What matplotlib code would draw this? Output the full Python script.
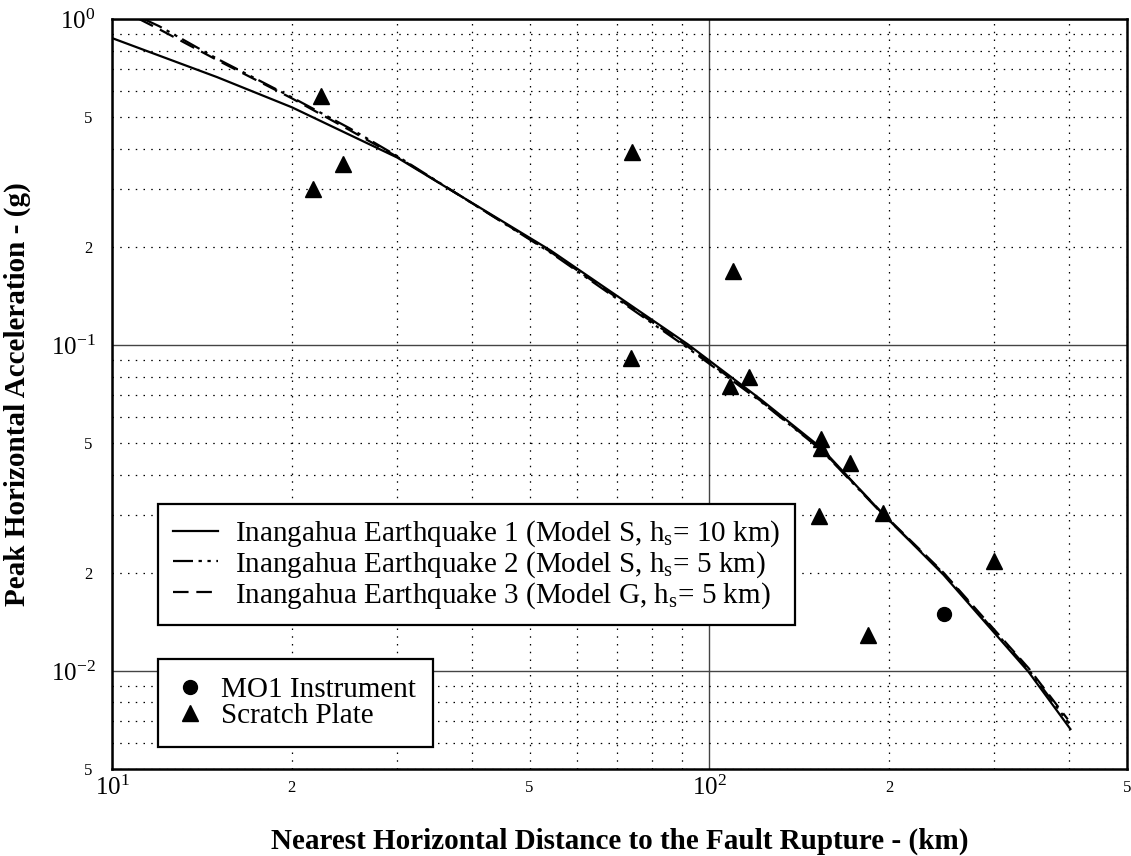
import math
import matplotlib
matplotlib.use("Agg")
import matplotlib.pyplot as plt
from matplotlib.ticker import FixedLocator, FuncFormatter

plt.rcParams['font.family'] = ['Liberation Serif', 'DejaVu Serif']
plt.rcParams['mathtext.fontset'] = 'custom'
plt.rcParams['mathtext.rm'] = 'Liberation Serif'
plt.rcParams['mathtext.it'] = 'Liberation Serif:italic'

# ---- data ----
eq1_x = [10, 15.0, 20.0, 30.0, 54.2, 91.9, 121.7, 153.5, 193.4, 246.6, 342.1, 402]
eq1_y = [0.874, 0.663, 0.536, 0.376, 0.195, 0.1006, 0.0682, 0.0485, 0.0308, 0.0197, 0.00993, 0.00663]

eq2_x = [11.3, 12, 15, 20, 25, 30, 54.2, 91.9, 121.7, 153.5, 193.4, 246.6, 342.1, 400]
eq2_y = [1.0, 0.95, 0.755, 0.575, 0.462, 0.380, 0.192, 0.098, 0.0672, 0.0478, 0.0307, 0.0199, 0.0101, 0.0069]

eq3_x = [11.1, 12, 15, 20, 25, 30, 54.2, 91.9, 121.7, 153.5, 193.4, 246.6, 342.1, 398]
eq3_y = [1.0, 0.93, 0.748, 0.571, 0.456, 0.378, 0.193, 0.099, 0.0675, 0.0480, 0.0309, 0.0200, 0.0102, 0.0071]

mo1_x = [246.6]
mo1_y = [0.0149]

scratch_x = [22.4, 21.7, 24.4, 74.3, 74.0, 109.7, 116.7, 108.4, 153.5, 154.0, 171.6, 152.4, 195.0, 184.5, 299.0]
scratch_y = [0.58, 0.30, 0.36, 0.39, 0.0913, 0.169, 0.0797, 0.0748, 0.0514, 0.0482, 0.0434, 0.0298, 0.0304, 0.0129, 0.0217]

labels = ["Inangahua Earthquake 1 (Model S, h$_\\mathregular{s}$= 10 km)",
          "Inangahua Earthquake 2 (Model S, h$_\\mathregular{s}$= 5 km)",
          "Inangahua Earthquake 3 (Model G, h$_\\mathregular{s}$= 5 km)"]
point_labels = ["MO1 Instrument", "Scratch Plate"]

x_major = [10, 100]
y_major = [0.01, 0.1, 1.0]
x_minor = [20, 30, 40, 50, 60, 70, 80, 90, 200, 300, 400, 500]
y_minor = [0.005, 0.006, 0.007, 0.008, 0.009, 0.02, 0.03, 0.04, 0.05, 0.06, 0.07, 0.08, 0.09,
           0.2, 0.3, 0.4, 0.5, 0.6, 0.7, 0.8, 0.9]

fig = plt.figure(figsize=(11.31, 8.56), dpi=100)
ax = fig.add_axes([112/1131, 1-769/856, (1127-112)/1131, (769-19)/856])
ax.set_xscale('log')
ax.set_yscale('log')
ax.set_xlim(10, 500)
ax.set_ylim(0.005, 1.0)

ax.xaxis.set_major_locator(FixedLocator(x_major))
ax.yaxis.set_major_locator(FixedLocator(y_major))
ax.xaxis.set_minor_locator(FixedLocator(x_minor))
ax.yaxis.set_minor_locator(FixedLocator(y_minor))
ax.grid(which='major', color='#444444', linestyle='-', linewidth=1.0)
ax.grid(which='minor', color='black', linestyle=(0, (1.2, 5)), linewidth=0.9)

def major_fmt(v, pos):
    e = int(round(math.log10(v)))
    return r"$\mathregular{10^{%d}}$" % e

def minor_fmt(v, pos):
    m = int(round(v / 10 ** math.floor(math.log10(v) + 1e-9)))
    return str(m) if m in (2, 5) else ""

ax.xaxis.set_major_formatter(FuncFormatter(major_fmt))
ax.yaxis.set_major_formatter(FuncFormatter(major_fmt))
ax.xaxis.set_minor_formatter(FuncFormatter(minor_fmt))
ax.yaxis.set_minor_formatter(FuncFormatter(minor_fmt))
ax.tick_params(which='both', length=0)
ax.tick_params(axis='x', which='major', labelsize=18, pad=5)
ax.tick_params(axis='x', which='minor', labelsize=12, pad=8)
ax.tick_params(axis='y', which='major', labelsize=18, pad=12)
ax.tick_params(axis='y', which='minor', labelsize=12, pad=14)

for s in ax.spines.values():
    s.set_linewidth(1.8)
    s.set_color('black')

l1, = ax.plot(eq1_x, eq1_y, color='black', linestyle='-', linewidth=1.6)
l2, = ax.plot(eq2_x, eq2_y, color='black', linestyle=(0, (9, 2.5, 1.5, 2.5, 1.5, 2.5)), linewidth=1.6)
l3, = ax.plot(eq3_x, eq3_y, color='black', linestyle=(0, (7, 3.5)), linewidth=1.6)

p1, = ax.plot(mo1_x, mo1_y, linestyle='none', marker='o', color='black', markersize=10)
p2, = ax.plot(scratch_x, scratch_y, linestyle='none', marker='^', color='black', markersize=11)

ax.set_xlabel("Nearest Horizontal Distance to the Fault Rupture - (km)", fontsize=21,
              fontweight='bold', labelpad=20)
ax.set_ylabel("Peak Horizontal Acceleration - (g)", fontsize=21, fontweight='bold', labelpad=14)

leg1 = ax.legend([l1, l2, l3], labels, loc='upper left', bbox_to_anchor=(0.0453, 0.3533),
                 borderaxespad=0, fontsize=21, frameon=True, fancybox=False, framealpha=1,
                 edgecolor='black', handlelength=1.55, handletextpad=0.6, labelspacing=0.0,
                 borderpad=0.5)
leg1.get_frame().set_linewidth(1.6)
ax.add_artist(leg1)

leg2 = ax.legend([p1, p2], point_labels, loc='upper left',
                 bbox_to_anchor=(0.0453, 0.1467), borderaxespad=0, fontsize=21, frameon=True,
                 fancybox=False, framealpha=1, edgecolor='black', handlelength=1.0,
                 handletextpad=0.55, labelspacing=0.0, borderpad=0.6)
leg2.get_frame().set_linewidth(1.6)

fig.savefig("out.png", dpi=100)
